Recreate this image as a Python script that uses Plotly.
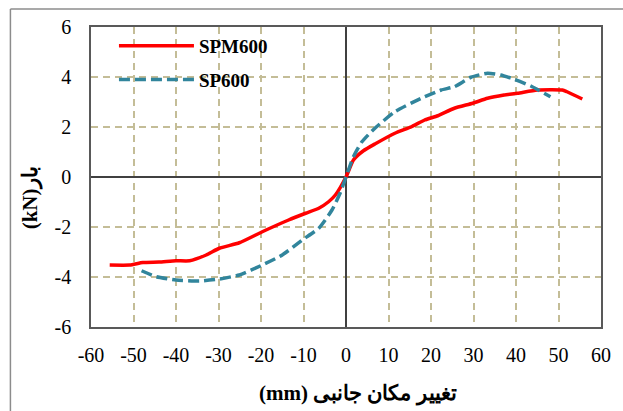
import plotly.graph_objects as go

spm_x = [-55.6, -50.9, -47.8, -44.0, -40.0, -36.8, -32.9, -29.8, -25.1, -19.7, -13.5, -9.5, -6.4, -4.1, -2.5, 0.0, 1.75, 4.1, 6.8, 11.5, 15.4, 18.5, 21.6, 25.5, 29.8, 33.3, 37.2, 40.4, 45.0, 50.9, 52.0, 55.6]
spm_y = [-3.52, -3.52, -3.42, -3.40, -3.35, -3.35, -3.12, -2.85, -2.63, -2.19, -1.72, -1.45, -1.25, -0.99, -0.72, 0.0, 0.68, 1.05, 1.32, 1.75, 2.01, 2.28, 2.45, 2.75, 2.95, 3.15, 3.28, 3.35, 3.48, 3.48, 3.41, 3.12]

sp_x = [-48.1, -44.6, -40.0, -34.5, -29.8, -25.1, -19.7, -15.0, -10.3, -6.4, -3.3, -1.4, 0.0, 1.75, 3.7, 6.8, 11.5, 17.7, 22.4, 25.5, 29.4, 33.3, 36.4, 39.6, 43.5, 48.1]
sp_y = [-3.75, -3.99, -4.12, -4.16, -4.08, -3.92, -3.52, -3.12, -2.52, -2.05, -1.32, -0.65, 0.0, 0.81, 1.40, 1.95, 2.61, 3.15, 3.48, 3.61, 3.99, 4.15, 4.08, 3.91, 3.64, 3.21]

x_ticks = list(range(-60, 61, 10))
y_ticks = list(range(-6, 7, 2))

serif = "Liberation Serif"

fig = go.Figure()
fig.add_trace(go.Scatter(x=spm_x, y=spm_y, mode="lines", name="<b>SPM600</b>",
                         line=dict(color="#ff0000", width=3.5, shape="spline", smoothing=0.5),
                         legendgroup="a"))
fig.add_trace(go.Scatter(x=sp_x, y=sp_y, mode="lines", name="<b>SP600</b>",
                         line=dict(color="#31859c", width=3.5, dash="11px,5px", shape="spline", smoothing=0.5),
                         legendgroup="b"))

grid_color = "#c4bd97"
fig.update_xaxes(range=[-60, 60], tickvals=x_ticks, ticktext=[str(v) for v in x_ticks],
                 showgrid=True, gridcolor=grid_color, gridwidth=1.5, griddash="7px,5px",
                 zeroline=True, zerolinecolor="#404040", zerolinewidth=1.5,
                 showline=True, linecolor="#595959", linewidth=1.5, mirror=True,
                 ticks="", ticklabelstandoff=9,
                 tickfont=dict(family=serif, size=20, color="black"))
fig.update_yaxes(range=[-6, 6], tickvals=y_ticks, ticktext=[str(v) for v in y_ticks],
                 showgrid=True, gridcolor=grid_color, gridwidth=1.5, griddash="7px,5px",
                 zeroline=True, zerolinecolor="#404040", zerolinewidth=1.5,
                 showline=True, linecolor="#595959", linewidth=1.5, mirror=True,
                 ticks="", ticklabelstandoff=14,
                 tickfont=dict(family=serif, size=20, color="black"))

fig.add_annotation(text="<b>(mm) تغییر مکان جانبی</b>", xref="paper", yref="paper",
                   x=0.524, y=-0.22, showarrow=False, xanchor="center", yanchor="middle",
                   font=dict(family=serif, size=21, color="black"))
fig.add_annotation(text="<b>(kN)بار</b>", xref="paper", yref="paper",
                   x=-0.119, y=0.43, showarrow=False, textangle=-90,
                   xanchor="center", yanchor="middle",
                   font=dict(family=serif, size=21, color="black"))

# outer chart-area frame
fig.add_shape(type="line", xref="paper", yref="paper", x0=-0.158, x1=1.1, y0=1.06, y1=1.06,
              line=dict(color="#8c8c8c", width=1.5))
fig.add_shape(type="line", xref="paper", yref="paper", x0=-0.158, x1=-0.158, y0=-0.3, y1=1.06,
              line=dict(color="#8c8c8c", width=1.5))

fig.update_layout(
    width=623, height=411,
    margin=dict(l=91, r=19, t=27, b=84),
    plot_bgcolor="white", paper_bgcolor="white",
    showlegend=True,
    legend=dict(x=0.045, y=1.0, xanchor="left", yanchor="top",
                bgcolor="rgba(0,0,0,0)", itemwidth=75, tracegroupgap=6,
                font=dict(family=serif, size=19, color="black")),
)

fig.write_html("out.html")
